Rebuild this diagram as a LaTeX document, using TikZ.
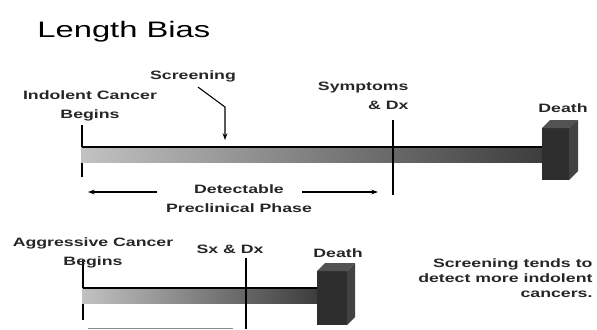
\documentclass[tikz,border=0pt]{standalone}
\usepackage{fontspec}
\setmainfont[FakeStretch=1.46]{Liberation Sans}
\usetikzlibrary{arrows.meta}
\tikzset{every picture/.style={line width=0.75pt}}

\begin{document}
\begin{tikzpicture}[x=0.75pt,y=0.75pt,yscale=-1,xscale=1,
  lbl/.style={font=\fontsize{9.1}{13.8}\selectfont\bfseries, inner sep=0pt, align=center, text=black!85},
  note/.style={font=\fontsize{9.1}{11.25}\selectfont\bfseries, inner sep=0pt, align=right, text=black!85},
  ptr/.style={-{Stealth[length=5pt,width=3.6pt]}, line width=0.8pt},
  tickline/.style={line width=1.5pt},
  barfill/.style={left color=black!24, right color=black!76},
  baredge/.style={line width=1.1pt}]
\useasboundingbox (0,0) rectangle (597,329);

% Text Node
\node (title) [anchor=base west, inner sep=0pt, font=\fontsize{16.8}{20}\selectfont] at (37,37) {Length Bias};

%%% indolent timeline
%Straight Lines (begin tick)
\draw [tickline] (82,125) -- (82,177) ;
%Shape: Bar
\shade [barfill] (81,147) rectangle (542,162) ;
\draw [baredge] (82,147) -- (542,147) ;
%Straight Lines (symptoms)
\draw [tickline] (393,120) -- (393,195) ;
%Shape: Block
\fill [black!82] (542,128) rectangle (569,180) ;
\fill [black!68] (542,128) -- (550,120) -- (578,120) -- (569,128) -- cycle ;
\fill [black!74] (569,128) -- (578,120) -- (578,171) -- (569,180) -- cycle ;

% Text Node (multi-line nodes sit on their last baseline)
\node (screening) [lbl, anchor=base] at (193,79) {Screening};
% Text Node
\node (indolent) [lbl, anchor=base] at (90,118) {Indolent Cancer\\Begins};
% Text Node
\node (symptoms) [lbl, align=right, anchor=base east] at (409,109) {Symptoms\\\& Dx};
% Text Node
\node (death) [lbl, anchor=base] at (563,112) {Death};
% Text Node
\node (detect) [lbl, anchor=base] at (239,212) {Detectable\\Preclinical Phase};

\coordinate (scrbend) at (225,107);
\coordinate (scrhit) at (225,140);
\draw [ptr] ([shift={(5,5)}]screening.south) -- (scrbend) -- (scrhit) ;

\coordinate (detL) at (88,192);
\coordinate (detR) at (378,192);
\draw [ptr, shorten <=6.5pt] (detect.west |- detL) -- (detL) ;
\draw [ptr] ([xshift=-7.5pt]detect.east |- detR) -- (detR) ;

%%% aggressive timeline
%Straight Lines (begin tick)
\draw [tickline] (83,260) -- (83,320) ;
%Shape: Bar
\shade [barfill] (82,288) rectangle (317,303) ;
\draw [baredge] (83,288) -- (317,288) ;
%Straight Lines (sx dx)
\draw [tickline] (246,258) -- (246,329) ;
%Shape: Block
\fill [black!82] (317,271) rectangle (347,325) ;
\fill [black!68] (317,271) -- (325,263) -- (355,263) -- (347,271) -- cycle ;
\fill [black!74] (347,271) -- (355,263) -- (355,317) -- (347,325) -- cycle ;
%Straight Lines (cut phase arrow)
\draw [black!45, line width=0.6pt] (88,328) -- (233,328) ;

% Text Node
\node (aggressive) [lbl, anchor=base] at (93,265) {Aggressive Cancer\\Begins};
% Text Node
\node (sxdx) [lbl, anchor=base] at (230,253) {Sx \& Dx};
% Text Node
\node (death2) [lbl, anchor=base] at (338,257) {Death};
% Text Node
\node (remark) [note, anchor=base east] at (593,297) {Screening tends to\\detect more indolent\\cancers.};

\end{tikzpicture}
\end{document}
